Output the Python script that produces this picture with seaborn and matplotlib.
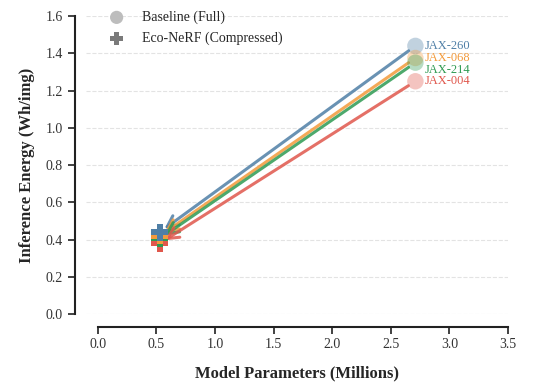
import matplotlib
matplotlib.use("Agg")
import matplotlib.pyplot as plt
import seaborn as sns
import pandas as pd

# ---- data ----
scenes = ["JAX-260", "JAX-068", "JAX-214", "JAX-004"]
base_params = [2.71, 2.71, 2.71, 2.71]
base_energy = [1.44, 1.375, 1.35, 1.25]
comp_params = [0.53, 0.53, 0.53, 0.53]
comp_energy = [0.44, 0.42, 0.405, 0.38]
colors = ["#4f7fa6", "#f39a3b", "#2e9a52", "#e0574c"]

sns.set_theme(style="ticks")
plt.rcParams["font.family"] = ["Liberation Serif", "DejaVu Serif"]

df_base = pd.DataFrame({"scene": scenes, "params": base_params, "energy": base_energy})
df_comp = pd.DataFrame({"scene": scenes, "params": comp_params, "energy": comp_energy})
pal = dict(zip(scenes, colors))

fig = plt.figure(figsize=(5.41, 3.83), dpi=100)
ax = fig.add_axes([0.159, 0.180, 0.780, 0.778])

# 箭头：基线 -> 压缩模型
for i, s in enumerate(scenes):
    ax.annotate("", xy=(comp_params[i], comp_energy[i]),
                xytext=(base_params[i], base_energy[i]),
                arrowprops=dict(arrowstyle="->", color=colors[i], lw=2.2, alpha=0.85,
                                shrinkA=6, shrinkB=4, mutation_scale=20),
                zorder=2)

sns.scatterplot(data=df_base, x="params", y="energy", hue="scene", palette=pal,
                marker="o", s=140, alpha=0.35, edgecolor="none", legend=False, ax=ax, zorder=3)
# draw from bottom so blue sits on top like in reference
sns.scatterplot(data=df_comp.iloc[::-1], x="params", y="energy", hue="scene", palette=pal,
                marker="P", s=150, edgecolor="none", legend=False, ax=ax, zorder=4)

# scene labels
label_dy = [0, 0, -5, 0]
for i, s in enumerate(scenes):
    ax.annotate(s, xy=(base_params[i], base_energy[i]), xytext=(7, label_dy[i]),
                textcoords="offset points", color=colors[i], fontsize=9,
                va="center", ha="left")

# legend
h1 = ax.scatter([], [], marker="o", s=90, color="#bdbdbd", edgecolor="none")
h2 = ax.scatter([], [], marker="P", s=90, color="#7a7a7a", edgecolor="none")
ax.legend([h1, h2], ["Baseline (Full)", "Eco-NeRF (Compressed)"], loc="upper left",
          bbox_to_anchor=(0.01, 1.06), frameon=False, fontsize=10, handletextpad=0.8,
          labelspacing=0.55)

ax.set_xlim(-0.1, 3.5)
ax.set_ylim(0, 1.6)
ax.set_xticks([0, 0.5, 1, 1.5, 2, 2.5, 3, 3.5])
ax.set_yticks([0, 0.2, 0.4, 0.6, 0.8, 1.0, 1.2, 1.4, 1.6])
ax.yaxis.grid(True, linestyle="--", color="#e3e3e3", lw=0.8)
ax.set_axisbelow(True)
ax.tick_params(labelsize=10, colors="#333333", width=1.3, length=5)
for sp in ax.spines.values():
    sp.set_linewidth(1.5)
    sp.set_color("#222222")
ax.set_xlabel("Model Parameters (Millions)", fontsize=12, fontweight="bold", labelpad=10)
ax.set_ylabel("Inference Energy (Wh/img)", fontsize=12, fontweight="bold", labelpad=8)
sns.despine(ax=ax, offset={"left": 8, "bottom": 9}, trim=True)

plt.savefig("out.png", dpi=100)
